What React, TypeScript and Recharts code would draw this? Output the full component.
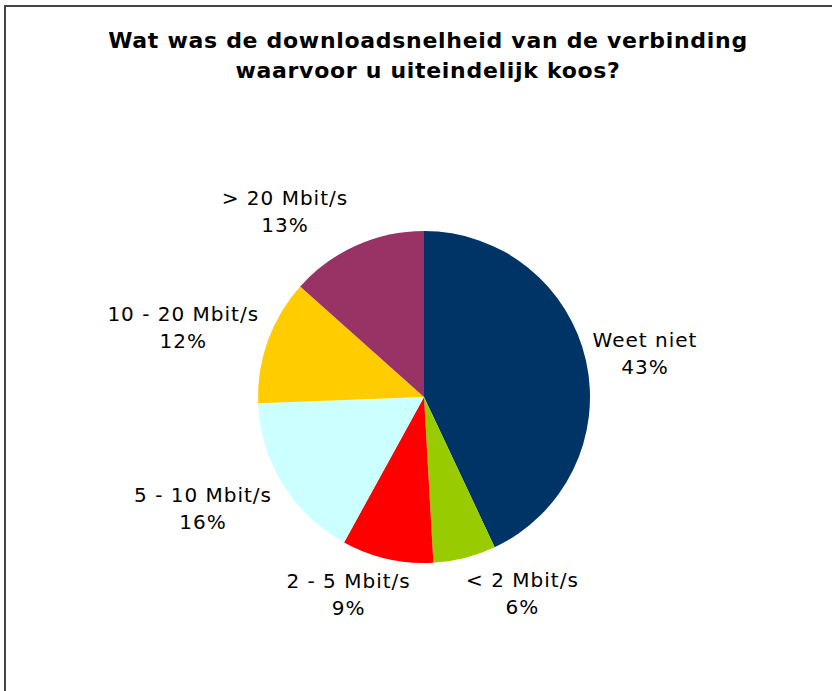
import { PieChart, Pie, Cell } from "recharts";

// categories and shares (percent of respondents)
const categories = [
  "Weet niet",
  "< 2 Mbit/s",
  "2 - 5 Mbit/s",
  "5 - 10 Mbit/s",
  "10 - 20 Mbit/s",
  "> 20 Mbit/s",
];
const shares = [43.0, 6.1, 8.9, 16.4, 12.2, 13.4];
const colors = ["#003366", "#99CC00", "#FF0000", "#CCFFFF", "#FFCC00", "#993366"];

// label nudges (Excel spread some labels apart)
const labelNudgeX = [-1.5, 41, -21, -6.5, 2, -41];
const labelNudgeY = [0, 2, 1, 6, -1, -2];

const titleLines = [
  "Wat was de downloadsnelheid van de verbinding",
  "waarvoor u uiteindelijk koos?",
];

const data = categories.map((name, i) => ({ name, value: shares[i] }));

const FONT = "'DejaVu Sans', Verdana, sans-serif";
const RAD = Math.PI / 180;

function renderLabel(props: any) {
  const { cx, cy, midAngle, outerRadius, percent, index, name } = props;
  const ux = Math.cos(midAngle * RAD);
  const uy = -Math.sin(midAngle * RAD);
  const r = outerRadius + 8;
  const w = String(name).length * 12;
  const h = 54;
  const x = cx + r * ux + (ux * w) / 2 + labelNudgeX[index];
  const y = cy + r * uy + (uy * h) / 2 + labelNudgeY[index];
  const common = {
    x,
    textAnchor: "middle" as const,
    fontFamily: FONT,
    fontSize: 20,
    letterSpacing: 1,
    fill: "#000",
  };
  return (
    <g key={`lbl-${index}`}>
      <text {...common} y={y - 6.5}>
        {name}
      </text>
      <text {...common} y={y + 20.5}>
        {`${Math.round(percent * 100)}%`}
      </text>
    </g>
  );
}

export default function App() {
  return (
    <div
      style={{
        position: "absolute",
        left: 0,
        top: 0,
        width: 832,
        height: 691,
        overflow: "hidden",
        background: "#fff",
      }}
    >
      <div
        style={{
          position: "absolute",
          left: 4,
          top: 5,
          width: 900,
          height: 800,
          border: "2px solid #444",
        }}
      />
      <svg
        width={832}
        height={100}
        style={{ position: "absolute", left: 0, top: 0 }}
      >
        {titleLines.map((line, i) => (
          <text
            key={i}
            x={428}
            y={48 + i * 30}
            textAnchor="middle"
            fontFamily={FONT}
            fontWeight="bold"
            fontSize={22}
            letterSpacing={0.7}
            fill="#000"
          >
            {line}
          </text>
        ))}
      </svg>
      <div style={{ position: "absolute", left: 0, top: 0 }}>
        <PieChart
          width={832}
          height={691}
          margin={{ top: 0, right: 0, bottom: 0, left: 0 }}
        >
          <Pie
            data={data}
            dataKey="value"
            nameKey="name"
            cx={424}
            cy={397}
            outerRadius={166}
            startAngle={90}
            endAngle={-270}
            stroke="none"
            label={renderLabel}
            labelLine={false}
            isAnimationActive={false}
          >
            {data.map((d, i) => (
              <Cell key={d.name} fill={colors[i]} />
            ))}
          </Pie>
        </PieChart>
      </div>
    </div>
  );
}
